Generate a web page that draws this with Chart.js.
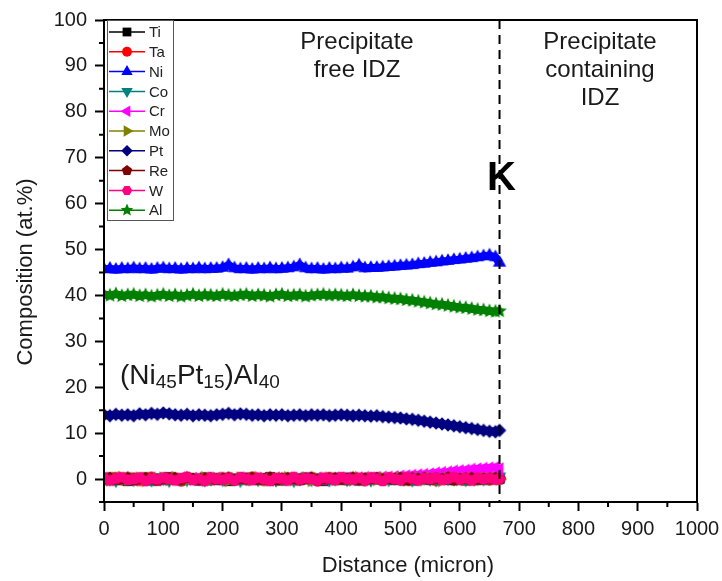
<!DOCTYPE html>
<html>
<head>
<meta charset="utf-8">
<script src="https://cdn.jsdelivr.net/npm/chart.js@4.4.1/dist/chart.umd.min.js"></script>
<style>
  html, body { margin: 0; padding: 0; background: #fff; }
  #wrap { width: 722px; height: 581px; }
</style>
</head>
<body>
<div id="wrap"><canvas id="chart" width="722" height="581"></canvas></div>
<script>
// distance along the line scan (micron)
const distance = [0,10,20,30,40,50,60,70,80,90,100,110,120,130,140,150,160,170,180,190,200,210,220,230,240,250,260,270,280,290,300,310,320,330,340,350,360,370,380,390,400,410,420,430,440,450,460,470,480,490,500,510,520,530,540,550,560,570,580,590,600,610,620,630,640,650,660,667];

// composition (at.%) per element
const ti = [0.0,0.3,-0.2,0.1,-0.4,0.2,0.0,0.3,-0.3,0.1,-0.1,0.4,0.0,-0.2,0.2,0.1,-0.3,0.3,0.0,-0.1,0.2,-0.4,0.1,0.0,0.3,-0.2,0.1,-0.1,0.4,0.0,-0.3,0.2,0.1,-0.2,0.3,0.0,0.1,-0.4,0.2,0.0,-0.1,0.3,0.1,-0.3,0.2,0.0,0.3,-0.1,0.1,-0.2,0.4,0.0,-0.3,0.2,0.1,-0.1,0.0,0.3,-0.2,0.1,0.0,-0.3,0.2,0.1,-0.1,0.3,0.0,0.1];
const ta = [-0.2,0.1,0.3,-0.1,0.0,0.2,-0.3,0.1,0.4,-0.2,0.0,0.2,0.1,-0.4,0.3,0.0,-0.1,0.2,-0.2,0.1,0.3,0.0,-0.2,0.1,-0.1,0.4,0.0,-0.3,0.2,0.1,-0.1,0.0,0.3,-0.2,0.1,0.2,-0.4,0.0,0.3,-0.1,0.2,-0.2,0.1,0.0,-0.3,0.3,0.1,-0.1,0.2,0.0,-0.2,0.1,0.3,-0.1,0.0,0.2,-0.3,0.1,0.0,-0.2,0.2,0.1,-0.1,0.0,0.3,-0.2,0.1,0.0];
const ni = [45.7,45.8,45.6,45.8,45.7,45.9,45.7,45.8,45.6,45.8,45.9,45.7,45.8,45.6,45.8,45.7,45.9,45.7,45.8,45.8,46.0,46.6,45.9,45.7,45.8,45.6,45.8,45.7,45.9,45.7,45.8,45.9,46.1,46.6,45.9,45.7,45.8,45.6,45.8,45.7,45.9,45.8,46.1,46.5,45.9,46.0,46.0,46.1,46.2,46.3,46.4,46.5,46.6,46.8,46.9,47.1,47.2,47.4,47.5,47.7,47.8,48.0,48.1,48.3,48.5,48.7,48.3,47.1];
const co = [0.1,0.0,-0.3,0.2,0.1,-0.1,0.4,0.0,-0.2,0.3,0.1,-0.3,0.2,0.0,-0.1,0.3,0.1,-0.2,0.0,0.4,-0.1,0.2,0.0,-0.3,0.1,0.2,-0.1,0.3,0.0,-0.2,0.2,0.1,-0.3,0.0,0.4,-0.1,0.2,0.1,-0.2,0.0,0.3,-0.1,0.2,0.1,0.0,-0.2,0.3,0.1,-0.1,0.2,0.0,0.3,-0.2,0.1,0.2,0.0,-0.1,0.3,0.1,0.0,0.2,-0.1,0.3,0.1,0.0,0.2,0.4,0.6];
const cr = [0.1,-0.1,0.2,0.0,0.1,-0.2,0.1,0.0,0.2,-0.1,0.0,0.1,-0.1,0.2,0.0,0.1,-0.2,0.1,0.0,0.2,-0.1,0.1,0.0,0.2,-0.1,0.1,0.0,0.1,-0.2,0.2,0.0,0.1,-0.1,0.2,0.1,0.0,0.2,-0.1,0.1,0.2,0.1,0.2,0.0,0.2,0.3,0.2,0.3,0.4,0.4,0.5,0.6,0.7,0.8,0.9,1.0,1.1,1.3,1.4,1.5,1.7,1.8,1.9,2.1,2.2,2.3,2.4,2.5,2.2];
const mo = [0.0,-0.2,0.1,0.3,-0.1,0.0,0.2,-0.3,0.1,0.0,0.2,-0.1,0.3,0.0,-0.2,0.1,0.0,0.3,-0.1,0.2,0.0,-0.3,0.1,0.2,0.0,-0.1,0.3,0.1,-0.2,0.0,0.1,0.3,-0.1,0.0,0.2,-0.3,0.1,0.0,0.2,-0.1,0.0,0.1,-0.2,0.3,0.1,0.0,-0.1,0.2,0.0,0.1,0.3,-0.2,0.0,0.1,-0.1,0.2,0.0,-0.3,0.1,0.2,-0.1,0.0,0.1,-0.2,0.2,0.0,0.1,0.0];
const pt = [14.0,13.8,14.1,13.9,14.0,13.8,14.2,14.0,14.3,14.1,14.4,14.2,14.0,13.9,14.1,13.8,14.0,13.9,13.8,14.0,14.1,14.3,14.0,14.2,14.1,13.9,14.0,13.8,14.0,13.9,14.0,13.8,13.9,14.0,13.8,14.0,13.9,14.0,13.8,13.9,14.0,13.9,13.8,13.9,13.8,13.7,13.8,13.6,13.5,13.4,13.3,13.1,13.0,12.8,12.6,12.4,12.2,12.0,11.8,11.6,11.4,11.2,11.0,10.8,10.6,10.4,10.3,10.6];
const re = [0.1,0.2,-0.1,0.0,0.3,-0.2,0.1,0.2,0.0,-0.3,0.1,0.0,0.2,-0.1,0.3,0.0,-0.2,0.1,0.2,-0.1,0.0,0.3,-0.2,0.1,0.0,0.2,-0.1,0.0,0.3,-0.2,0.1,0.2,0.0,-0.1,0.1,0.3,-0.2,0.0,0.1,0.2,-0.1,0.0,0.3,-0.2,0.1,0.0,0.2,-0.1,0.1,0.0,0.2,-0.3,0.1,0.0,0.2,-0.1,0.1,0.0,0.3,-0.2,0.0,0.1,0.2,-0.1,0.0,0.1,0.2,0.0];
const w  = [0.2,-0.3,0.1,0.4,-0.2,0.0,0.3,-0.4,0.1,-0.1,0.3,0.0,-0.3,0.2,0.4,-0.2,0.1,-0.4,0.3,0.0,-0.1,0.2,-0.3,0.4,0.1,-0.2,0.3,0.0,-0.4,0.2,0.1,-0.3,0.4,-0.1,0.2,0.0,-0.3,0.3,0.1,-0.2,0.4,0.0,-0.1,0.3,-0.3,0.2,0.1,-0.4,0.3,0.0,-0.2,0.4,0.1,-0.3,0.2,0.0,0.3,-0.2,0.1,0.4,-0.1,0.2,-0.3,0.3,0.0,0.2,-0.1,0.1];
const al = [40.2,40.0,40.3,39.9,40.1,40.2,39.9,40.1,39.8,40.0,40.2,39.9,40.1,39.8,40.0,40.2,39.9,40.1,40.0,39.9,40.2,40.0,39.9,40.1,40.2,39.9,40.1,40.0,39.8,40.1,40.2,39.9,40.0,40.1,39.8,40.0,40.1,40.2,40.0,40.1,40.0,39.9,40.1,39.9,39.8,39.8,39.6,39.6,39.4,39.3,39.2,39.0,38.9,38.7,38.5,38.3,38.1,38.0,37.8,37.6,37.4,37.3,37.1,36.9,36.8,36.6,36.5,36.6];

const elements = ["Ti", "Ta", "Ni", "Co", "Cr", "Mo", "Pt", "Re", "W", "Al"];
const series = [ti, ta, ni, co, cr, mo, pt, re, w, al];
const colors = ["#000000", "#ff0000", "#0000ff", "#008080", "#ff00ff", "#808000", "#000080", "#800000", "#ff0080", "#008000"];
const shapes = ["square", "circle", "up", "down", "left", "right", "diamond", "pentagon", "hexagon", "star"];

const boundaryX = 667; // K
const FONT = "'Liberation Sans', Arial, sans-serif";

// marker outlines, same as Origin symbols
function shapePath(ctx, shape, r) {
  const d = Math.PI / 180;
  const poly = (n, R, a0) => {
    for (let k = 0; k < n; k++) {
      const a = a0 + k * 2 * Math.PI / n;
      const px = R * Math.cos(a), py = R * Math.sin(a);
      k ? ctx.lineTo(px, py) : ctx.moveTo(px, py);
    }
    ctx.closePath();
  };
  switch (shape) {
    case "square": ctx.rect(-r * 0.8, -r * 0.8, r * 1.6, r * 1.6); break;
    case "circle": ctx.arc(0, 0, r * 0.9, 0, 2 * Math.PI); break;
    case "up": poly(3, r * 1.2, -90 * d); break;
    case "down": poly(3, r * 1.2, 90 * d); break;
    case "left": poly(3, r * 1.2, 180 * d); break;
    case "right": poly(3, r * 1.2, 0); break;
    case "diamond": poly(4, r * 1.05, -90 * d); break;
    case "pentagon": poly(5, r, -90 * d); break;
    case "hexagon": poly(6, r * 0.95, 0); break;
    case "star":
      for (let k = 0; k < 10; k++) {
        const a = -90 * d + k * Math.PI / 5;
        const R = k % 2 ? r * 0.55 : r * 1.2;
        k ? ctx.lineTo(R * Math.cos(a), R * Math.sin(a)) : ctx.moveTo(R * Math.cos(a), R * Math.sin(a));
      }
      ctx.closePath();
      break;
  }
}

function drawMarker(ctx, shape, x, y, r, color) {
  ctx.save();
  ctx.translate(x, y);
  ctx.fillStyle = color;
  ctx.beginPath();
  shapePath(ctx, shape, r);
  ctx.fill();
  ctx.restore();
}

function makeMarker(shape, color, r) {
  const c = document.createElement("canvas");
  const s = Math.ceil(r * 2.8);
  c.width = c.height = s;
  drawMarker(c.getContext("2d"), shape, s / 2, s / 2, r, color);
  return c;
}

const datasets = elements.map((name, i) => ({
  label: name,
  data: distance.map((d, j) => ({ x: d, y: series[i][j] })),
  borderColor: colors[i],
  backgroundColor: colors[i],
  borderWidth: 8,
  pointStyle: makeMarker(shapes[i], colors[i], 6.4),
  pointRadius: 6,
  order: elements.length - i,
}));

const extras = {
  id: "extras",
  afterDraw(chart) {
    const { ctx, chartArea: a, scales: { x, y } } = chart;
    ctx.save();

    // frame
    ctx.strokeStyle = "#000";
    ctx.lineWidth = 2;
    ctx.strokeRect(a.left, a.top, a.right - a.left, a.bottom - a.top);

    // minor ticks
    ctx.lineWidth = 2;
    ctx.beginPath();
    for (let v = 50; v < 1000; v += 100) {
      const px = x.getPixelForValue(v);
      ctx.moveTo(px, a.bottom); ctx.lineTo(px, a.bottom + 5);
    }
    for (let v = -5; v < 100; v += 10) {
      const py = y.getPixelForValue(v);
      ctx.moveTo(a.left, py); ctx.lineTo(a.left - 5, py);
    }
    ctx.stroke();

    // K boundary
    const bx = x.getPixelForValue(boundaryX);
    ctx.setLineDash([9, 6]);
    ctx.beginPath();
    ctx.moveTo(bx, a.top); ctx.lineTo(bx, a.bottom);
    ctx.stroke();
    ctx.setLineDash([]);

    // legend
    const lx = a.left + 3, ly = a.top;
    ctx.fillStyle = "#fff";
    ctx.fillRect(lx, ly, 66, 200);
    ctx.strokeStyle = "#555";
    ctx.lineWidth = 1;
    ctx.strokeRect(lx + 0.5, ly + 0.5, 66, 200);
    ctx.font = `15px ${FONT}`;
    ctx.textBaseline = "middle";
    ctx.textAlign = "left";
    elements.forEach((name, i) => {
      const cy = ly + 12 + i * 19.8;
      ctx.strokeStyle = colors[i];
      ctx.lineWidth = 1.5;
      ctx.beginPath();
      ctx.moveTo(lx + 2, cy); ctx.lineTo(lx + 38, cy);
      ctx.stroke();
      drawMarker(ctx, shapes[i], lx + 20, cy, 5.5, colors[i]);
      ctx.fillStyle = "#222";
      ctx.fillText(name, lx + 42, cy + 1);
    });

    // region notes
    ctx.fillStyle = "#1a1a1a";
    ctx.textAlign = "center";
    ctx.font = `24px ${FONT}`;
    ctx.fillText("Precipitate", 357, 42);
    ctx.fillText("free IDZ", 357, 70);
    ctx.fillText("Precipitate", 600, 42);
    ctx.fillText("containing", 600, 70);
    ctx.fillText("IDZ", 600, 98);

    ctx.font = `bold 40px ${FONT}`;
    ctx.fillStyle = "#000";
    ctx.fillText("K", bx + 2, 179);

    // (Ni45Pt15)Al40
    const parts = [["(Ni", 0], ["45", 1], ["Pt", 0], ["15", 1], [")Al", 0], ["40", 1]];
    let tx = 120;
    ctx.textAlign = "left";
    ctx.textBaseline = "alphabetic";
    ctx.fillStyle = "#1a1a1a";
    parts.forEach(([t, sub]) => {
      ctx.font = sub ? `19px ${FONT}` : `28px ${FONT}`;
      ctx.fillText(t, tx, sub ? 388 : 384);
      tx += ctx.measureText(t).width;
    });

    // axis titles
    ctx.font = `22px ${FONT}`;
    ctx.textAlign = "center";
    ctx.textBaseline = "middle";
    ctx.fillStyle = "#1a1a1a";
    ctx.fillText("Distance (micron)", 408, 566);
    ctx.translate(26, 272);
    ctx.rotate(-Math.PI / 2);
    ctx.fillText("Composition (at.%)", 0, 0);

    ctx.restore();
  }
};

new Chart(document.getElementById("chart"), {
  type: "line",
  data: { datasets },
  options: {
    responsive: false,
    animation: false,
    devicePixelRatio: 1,
    layout: { padding: { top: 20, right: 25, left: 0, bottom: 0 } },
    plugins: { legend: { display: false }, tooltip: { enabled: false } },
    scales: {
      x: {
        type: "linear",
        min: 0, max: 1000,
        ticks: {
          stepSize: 100, color: "#1a1a1a", font: { family: FONT, size: 20 }, padding: 6, maxRotation: 0,
          callback: (v) => String(v),
        },
        grid: { drawOnChartArea: false, tickLength: 9, tickColor: "#000", tickWidth: 2 },
        border: { color: "#000", width: 2 },
        afterFit: (s) => { s.height = 79; s.paddingLeft = 0; s.paddingRight = 0; },
      },
      y: {
        min: -5, max: 100,
        ticks: {
          stepSize: 10, color: "#1a1a1a", font: { family: FONT, size: 20 }, padding: 8,
          callback: (v) => (v === -5 ? "" : String(v)),
        },
        grid: {
          drawOnChartArea: false, tickLength: 9, tickWidth: 2,
          tickColor: (c) => (c.tick && c.tick.value === -5 ? "rgba(0,0,0,0)" : "#000"),
        },
        border: { color: "#000", width: 2 },
        afterFit: (s) => { s.width = 104; s.paddingTop = 0; s.paddingBottom = 0; },
      },
    },
  },
  plugins: [extras],
});
</script>
</body>
</html>
